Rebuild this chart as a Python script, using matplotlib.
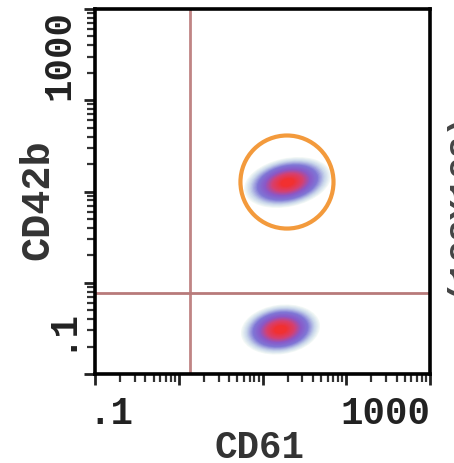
import numpy as np
import matplotlib
matplotlib.use("Agg")
import matplotlib.pyplot as plt
from matplotlib.path import Path
from matplotlib.transforms import Affine2D, ScaledTranslation
from matplotlib.colors import LinearSegmentedColormap
from matplotlib.ticker import LogLocator, NullFormatter

# populations (centre of each event cloud)
cd61 = [19.6, 16.2]
cd42b = [12.7, 0.31]
# gates
gate_cd61 = 1.36
gate_cd42b = 0.77

x_range = [0.1, 1000]
y_range = [0.1, 1000]
x_ticklabels = [".1", "1000"]
y_ticklabels = [".1", "1000"]

mono = "Liberation Mono"

fig = plt.figure(figsize=(4.54, 4.64), dpi=100)
ax = fig.add_axes([95 / 454, 1 - 375 / 464, 335 / 454, 365 / 464])
ax.set_xscale("log")
ax.set_yscale("log")
ax.set_xlim(x_range)
ax.set_ylim(y_range)

# gate lines
ax.axvline(gate_cd61, color="#c08484", lw=2.0, zorder=1)
ax.axhline(gate_cd42b, color="#b87a7a", lw=2.0, zorder=1)

# density blobs drawn as nested ellipses, outer -> inner
cmap = LinearSegmentedColormap.from_list("dens", [
    (0.0, "#f2f8f6"),
    (0.15, "#c8d6ea"),
    (0.35, "#7e76d6"),
    (0.55, "#8a58c8"),
    (0.75, "#d64070"),
    (1.0, "#f23030"),
])
blob_shapes = [(64, 0.55, 12), (58, 0.62, 8)]
n_layers = 30
for cx, cy, (w, asp, ang) in zip(cd61, cd42b, blob_shapes):
    verts = Affine2D().scale(1, asp).rotate_deg(ang).transform(Path.unit_circle().vertices)
    marker = Path(verts, Path.unit_circle().codes)
    for i in range(n_layers):
        t = i / (n_layers - 1)
        size = w * (1 - 0.85 * t)
        ax.scatter([cx], [cy], s=size ** 2, marker=marker, color=cmap(t),
                   linewidths=0, zorder=2 + i * 0.01)

# highlight circle around upper population
ax.scatter([cd61[0]], [cd42b[0]], s=67 ** 2, marker="o", facecolors="none",
           edgecolors="#f39a3c", linewidths=3.0, zorder=5)

# axes style
for sp in ax.spines.values():
    sp.set_linewidth(2.6)
for axis in (ax.xaxis, ax.yaxis):
    axis.set_major_locator(LogLocator(base=10, numticks=10))
    axis.set_minor_locator(LogLocator(base=10, subs=np.arange(2, 10), numticks=10))
    axis.set_minor_formatter(NullFormatter())
ax.tick_params(which="major", direction="out", length=8, width=2.0, color="#222222")
ax.tick_params(which="minor", direction="out", length=6, width=1.6, color="#333333")
ax.tick_params(axis="x", which="major", pad=7)
ax.tick_params(axis="y", which="major", pad=5)

ax.set_xticks([0.1, 1, 10, 100, 1000])
ax.set_xticklabels([x_ticklabels[0], "", "", "", x_ticklabels[1]],
                   fontfamily=mono, fontweight="bold", fontsize=27, color="#222222")
ax.set_yticks([0.1, 1, 10, 100, 1000])
ax.set_yticklabels([y_ticklabels[0], "", "", "", y_ticklabels[1]],
                   fontfamily=mono, fontweight="bold", fontsize=27, color="#222222",
                   rotation=90)
xl = ax.get_xticklabels()
xl[0].set_ha("left")
xl[-1].set_ha("right")
xl[0].set_transform(xl[0].get_transform() + ScaledTranslation(-7 / 100, 0, fig.dpi_scale_trans))
yl = ax.get_yticklabels()
for lab in yl:
    lab.set_va("center")
yl[0].set_va("bottom")
yl[-1].set_va("top")
yl[0].set_transform(yl[0].get_transform() + ScaledTranslation(0, 24 / 100, fig.dpi_scale_trans))

fig.text(260 / 454, 1 - 458 / 464, "CD61", fontfamily=mono, fontweight="bold",
         fontsize=27, color="#333333", ha="center", va="baseline")
fig.text(37 / 454, 1 - 200 / 464, "CD42b", fontfamily=mono, fontweight="bold",
         fontsize=29, color="#333333", ha="center", va="center", rotation=90)
fig.text(442 / 454, 1 - 203 / 464, "(128X128)", fontfamily=mono, fontweight="bold",
         fontsize=25, color="#444444", ha="left", va="center", rotation=90)

fig.savefig("out.png", dpi=100)
